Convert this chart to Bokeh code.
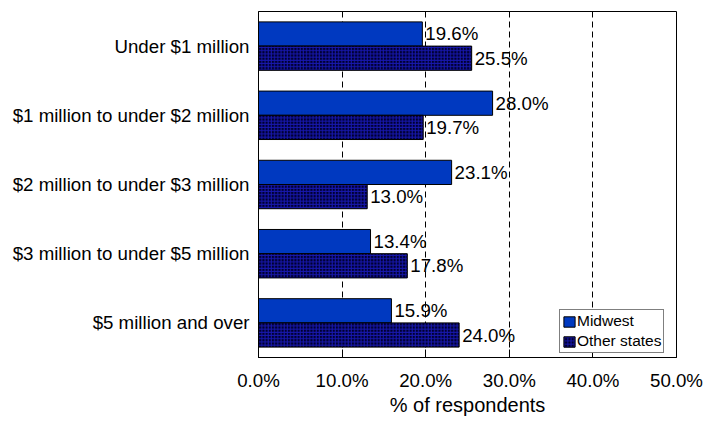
from bokeh.plotting import figure
from bokeh.models import ColumnDataSource, FactorRange, Range1d, PrintfTickFormatter, FixedTicker, Legend, LegendItem
from bokeh.transform import dodge
from bokeh.embed import file_html
from bokeh.resources import INLINE
from bokeh.core.properties import value

categories = ["Under $1 million", "$1 million to under $2 million", "$2 million to under $3 million",
              "$3 million to under $5 million", "$5 million and over"]
midwest = [19.6, 28.0, 23.1, 13.4, 15.9]
other_states = [25.5, 19.7, 13.0, 17.8, 24.0]
x_ticks = [0, 10, 20, 30, 40, 50]

FONT = "Liberation Sans"
LBL = "18.7px"

src = ColumnDataSource(dict(
    cat=categories,
    mw=midwest,
    ot=other_states,
    mw_lbl=["%.1f%%" % v for v in midwest],
    ot_lbl=["%.1f%%" % v for v in other_states],
))

p = figure(width=705, height=421, output_backend="svg", toolbar_location=None,
           y_range=FactorRange(factors=list(reversed(categories)), range_padding=0),
           x_range=Range1d(0, 50),
           min_border_left=258, min_border_right=29, min_border_top=11, min_border_bottom=64)

r1 = p.hbar(y=dodge("cat", 0.175, range=p.y_range), right="mw", left=0, height=0.35, source=src,
            fill_color="#0039C0", line_color="black", line_width=1)
r2 = p.hbar(y=dodge("cat", -0.175, range=p.y_range), right="ot", left=0, height=0.35, source=src,
            fill_color="#000030", hatch_pattern="+", hatch_color="#1818B0", hatch_scale=3.2, hatch_weight=1,
            line_color="black", line_width=1)

p.text(x="mw", y=dodge("cat", 0.175, range=p.y_range), text="mw_lbl", source=src, x_offset=3,
       text_baseline="middle", text_align="left", text_font=value(FONT), text_font_size=LBL, text_color="black")
p.text(x="ot", y=dodge("cat", -0.175, range=p.y_range), text="ot_lbl", source=src, x_offset=3,
       text_baseline="middle", text_align="left", text_font=value(FONT), text_font_size=LBL, text_color="black")

p.xaxis.ticker = FixedTicker(ticks=x_ticks)
p.xaxis.formatter = PrintfTickFormatter(format="%.1f%%")
p.xaxis.major_tick_in = 8
p.xaxis.major_tick_out = 0
p.xaxis.minor_tick_line_color = None
p.xaxis.axis_line_color = "black"
p.xaxis.major_tick_line_color = "black"
p.xaxis.major_label_text_font = FONT
p.xaxis.major_label_text_font_size = LBL
p.xaxis.major_label_text_color = "black"
p.xaxis.major_label_standoff = 12
p.xaxis.axis_label = "% of respondents"
p.xaxis.axis_label_text_font = FONT
p.xaxis.axis_label_text_font_size = "20px"
p.xaxis.axis_label_text_font_style = "normal"
p.xaxis.axis_label_text_color = "black"
p.xaxis.axis_label_standoff = 0

p.yaxis.major_tick_in = 0
p.yaxis.major_tick_out = 0
p.yaxis.axis_line_color = "black"
p.yaxis.major_label_text_font = FONT
p.yaxis.major_label_text_font_size = LBL
p.yaxis.major_label_text_color = "black"
p.yaxis.major_label_standoff = 9

p.xgrid.ticker = FixedTicker(ticks=[10, 20, 30, 40])
p.xgrid.grid_line_color = "black"
p.xgrid.grid_line_dash = "6 4"
p.xgrid.grid_line_width = 1
p.ygrid.grid_line_color = None

p.outline_line_color = "black"
p.outline_line_width = 1
p.outline_line_alpha = 1

legend = Legend(items=[LegendItem(label="Midwest", renderers=[r1]),
                       LegendItem(label="Other states", renderers=[r2])],
                location=(301, 4), orientation="vertical")
legend.label_text_font = FONT
legend.label_text_font_size = "15.5px"
legend.label_text_color = "black"
legend.glyph_width = 14
legend.glyph_height = 13
legend.label_standoff = 1
legend.label_height = 16
legend.spacing = 2
legend.padding = 2
legend.margin = 0
legend.border_line_color = "black"
legend.border_line_width = 1
legend.background_fill_alpha = 1
p.add_layout(legend)

open("out.html", "w").write(file_html(p, INLINE))
